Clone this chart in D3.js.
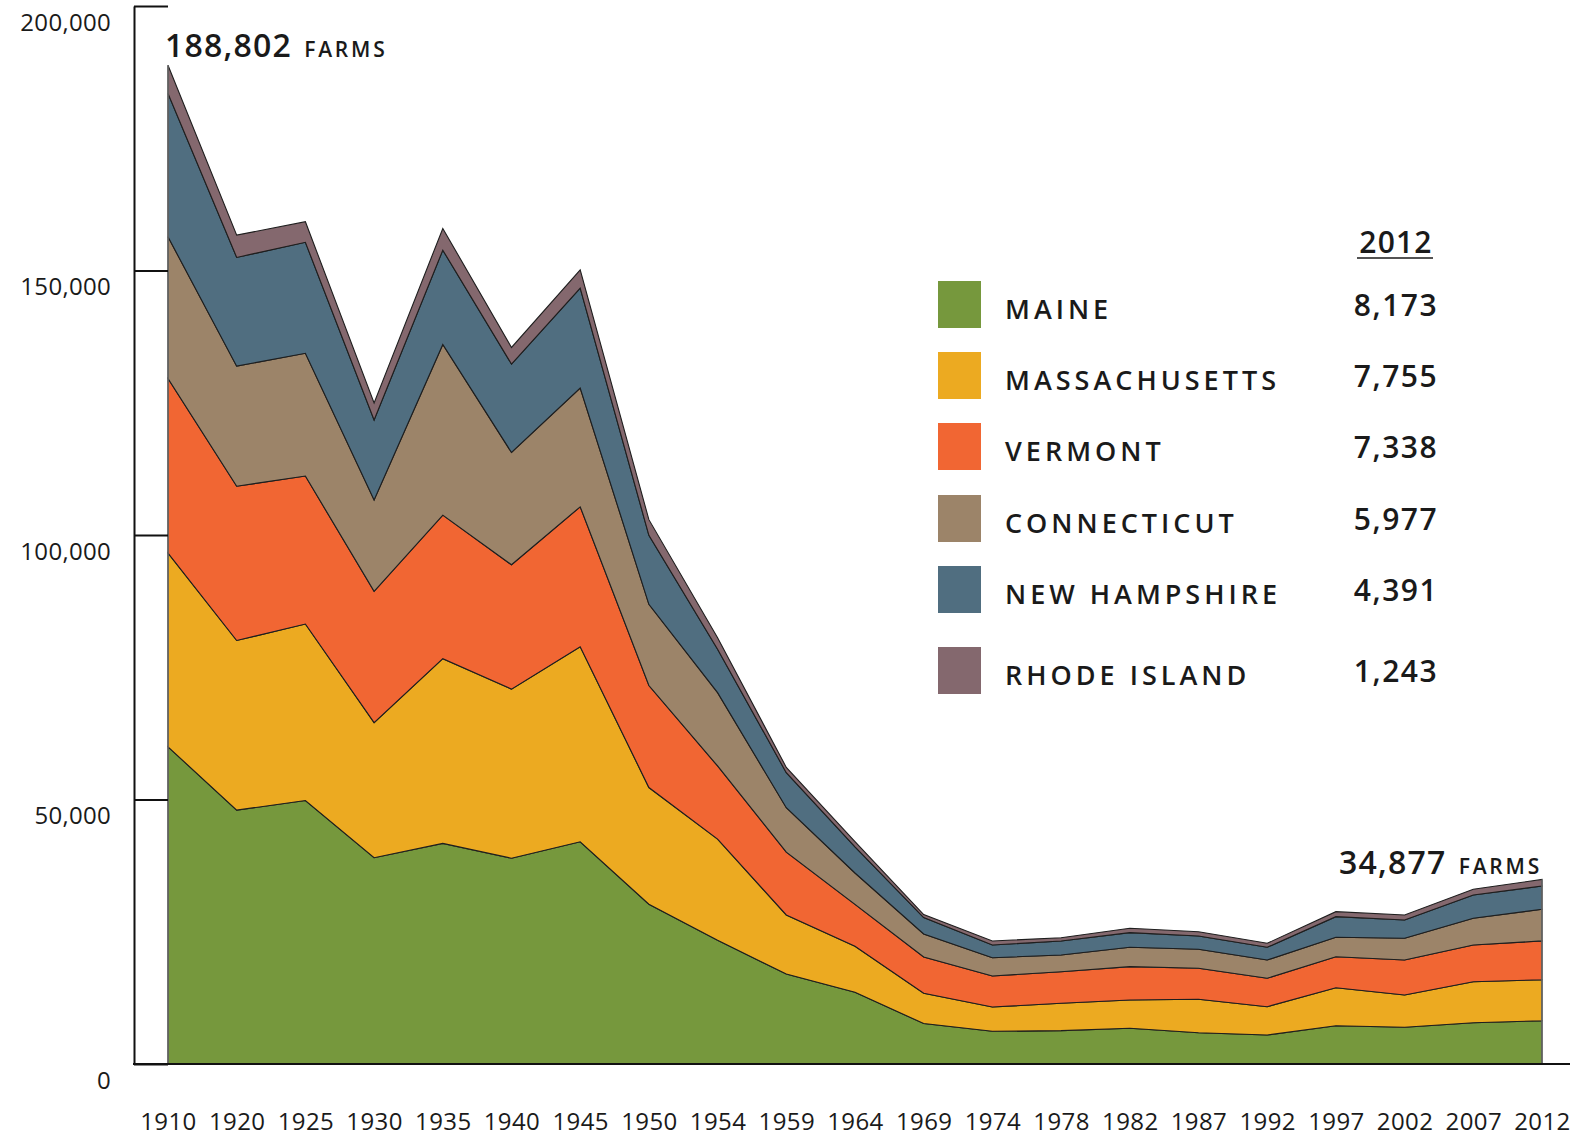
<!DOCTYPE html>
<html>
<head>
<meta charset="utf-8">
<script src="https://cdn.jsdelivr.net/npm/d3@7"></script>
<style>
  html, body { margin: 0; padding: 0; background: #fff; }
  svg { display: block; }
  text { font-family: "Open Sans", "Noto Sans", sans-serif; fill: #1a1a1a; }
</style>
</head>
<body>
<svg id="chart" width="1570" height="1137"></svg>
<script>
// ---- Data (farms per state, New England census years) ----
const years = ["1910","1920","1925","1930","1935","1940","1945","1950","1954","1959","1964","1969","1974","1978","1982","1987","1992","1997","2002","2007","2012"];
const maine        = [59950, 48000, 49800, 39000, 41700, 38900, 42000, 30200, 23400, 17000, 13550, 7650, 6180, 6300, 6750, 5920, 5480, 7240, 6940, 7810, 8173];
const massachusetts= [36640, 32060, 33370, 25540, 34920, 31970, 36880, 22060, 19100, 11170,  8720, 5710, 4590, 5180, 5350, 6310, 5350, 7180, 6110, 7750, 7755];
const vermont      = [32990, 29170, 27980, 24800, 27130, 23500, 26450, 19280, 13840, 11870,  7900, 6860, 5860, 5970, 6300, 5860, 5370, 5860, 6620, 6940, 7338];
const connecticut  = [26790, 22690, 23200, 17280, 32270, 21230, 22440, 15350, 13860,  8410,  5940, 4350, 3460, 3160, 3670, 3590, 3460, 3670, 4100, 5050, 5977];
const newHampshire = [27090, 20550, 20980, 15120, 17830, 16710, 18900, 13040,  8220,  6620,  4950, 3120, 2400, 2650, 2760, 2510, 2400, 3900, 3460, 4400, 4391];
const rhodeIsland  = [ 5350,  4220,  3890,  3210,  4100,  3140,  3460,  2970,  2170,  1000,   980,  570,  760,  620,  830,  810,  760,  950,  950, 1080, 1243];

const stateKeys   = ["MAINE","MASSACHUSETTS","VERMONT","CONNECTICUT","NEW HAMPSHIRE","RHODE ISLAND"];
const stateSeries = [maine, massachusetts, vermont, connecticut, newHampshire, rhodeIsland];
const stateColors = ["#76983d","#ecaa21","#f16633","#9c8469","#506e80","#84686e"];
const values2012  = ["8,173","7,755","7,338","5,977","4,391","1,243"];
const yTicks      = [0, 50000, 100000, 150000, 200000];
const firstTotal  = "188,802";
const lastTotal   = "34,877";

// ---- Build table ----
const table = years.map((yr, i) => {
  const row = { year: yr };
  stateKeys.forEach((k, j) => row[k] = stateSeries[j][i]);
  return row;
});

const svg = d3.select("#chart");

const x = d3.scalePoint().domain(years).range([168, 1542]);
const y = d3.scaleLinear().domain([0, 200000]).range([1064, 6]);
const color = d3.scaleOrdinal().domain(stateKeys).range(stateColors);

const stacked = d3.stack().keys(stateKeys)(table);

const area = d3.area()
  .x(d => x(d.data.year))
  .y0(d => y(d[0]))
  .y1(d => y(d[1]));

svg.append("g")
  .selectAll("path")
  .data(stacked)
  .join("path")
  .attr("d", area)
  .attr("fill", d => color(d.key))
  .attr("stroke", "#1e1e1e")
  .attr("stroke-width", 1.1)
  .attr("stroke-linejoin", "miter");

// left & right edges in gray
svg.append("line")
  .attr("x1", x(years[0])).attr("x2", x(years[0]))
  .attr("y1", y(0)).attr("y2", y(d3.sum(stateSeries, s => s[0])))
  .attr("stroke", "#6b6b6b").attr("stroke-width", 1.5);
svg.append("line")
  .attr("x1", x(years[years.length-1])).attr("x2", x(years[years.length-1]))
  .attr("y1", y(0)).attr("y2", y(d3.sum(stateSeries, s => s[s.length-1])))
  .attr("stroke", "#6b6b6b").attr("stroke-width", 1.5);

// ---- Y axis ----
const yAxis = d3.axisLeft(y)
  .tickValues(yTicks)
  .tickFormat(d3.format(","))
  .tickSizeInner(-34)
  .tickSizeOuter(0)
  .tickPadding(23);

const gy = svg.append("g").attr("transform", "translate(134,0)").call(yAxis);
gy.select(".domain").attr("stroke", "#111").attr("stroke-width", 2);
gy.selectAll(".tick line").attr("stroke", "#111").attr("stroke-width", 2);
gy.selectAll(".tick text")
  .attr("font-size", 24)
  .attr("font-family", "'Open Sans', sans-serif")
  .attr("fill", "#222")
  .attr("letter-spacing", 0.3)
  .attr("dy", "1.0em");

// baseline
svg.append("line")
  .attr("x1", 133).attr("x2", 1570)
  .attr("y1", y(0)).attr("y2", y(0))
  .attr("stroke", "#111").attr("stroke-width", 2);

// ---- X axis ----
const xAxis = d3.axisBottom(x).tickSize(0).tickPadding(49);
const gx = svg.append("g").attr("transform", `translate(0,${y(0)})`).call(xAxis);
gx.select(".domain").remove();
gx.selectAll(".tick text")
  .attr("font-size", 24)
  .attr("letter-spacing", 0.4)
  .attr("font-family", "'Open Sans', sans-serif")
  .attr("fill", "#222");

// ---- Annotations ----
function totalLabel(xPos, yPos, num) {
  const t = svg.append("text").attr("x", xPos).attr("y", yPos);
  t.append("tspan").text(num)
    .attr("font-size", 32).attr("font-weight", 600).attr("letter-spacing", 1.2);
  t.append("tspan").text(" FARMS")
    .attr("font-size", 21).attr("font-weight", 600).attr("letter-spacing", 2.8)
    .attr("dx", 4);
}
totalLabel(165, 57, firstTotal);
totalLabel(1339, 874, lastTotal);

// ---- Legend ----
const legendY = [281, 352, 423, 495, 566, 647];
const lg = svg.append("g");
lg.selectAll("rect")
  .data(stateKeys)
  .join("rect")
  .attr("x", 938).attr("y", (d, i) => legendY[i])
  .attr("width", 43).attr("height", 47)
  .attr("fill", d => color(d));

lg.selectAll("text.lab")
  .data(stateKeys)
  .join("text")
  .attr("class", "lab")
  .attr("x", 1005)
  .attr("y", (d, i) => legendY[i] + 28)
  .attr("dy", "0.36em")
  .attr("font-size", 27)
  .attr("font-weight", 600)
  .attr("letter-spacing", 4)
  .text(d => d);

lg.selectAll("text.val")
  .data(values2012)
  .join("text")
  .attr("class", "val")
  .attr("x", 1396)
  .attr("y", (d, i) => legendY[i] + 24)
  .attr("dy", "0.36em")
  .attr("text-anchor", "middle")
  .attr("font-size", 30)
  .attr("font-weight", 600)
  .attr("letter-spacing", 1.5)
  .text(d => d);

lg.append("text")
  .attr("x", 1396).attr("y", 242).attr("dy", "0.36em")
  .attr("text-anchor", "middle")
  .attr("font-size", 30).attr("font-weight", 600).attr("letter-spacing", 1.2)
  .text("2012");
lg.append("line")
  .attr("x1", 1357).attr("x2", 1433).attr("y1", 258).attr("y2", 258)
  .attr("stroke", "#1a1a1a").attr("stroke-width", 1.5);
</script>
</body>
</html>
